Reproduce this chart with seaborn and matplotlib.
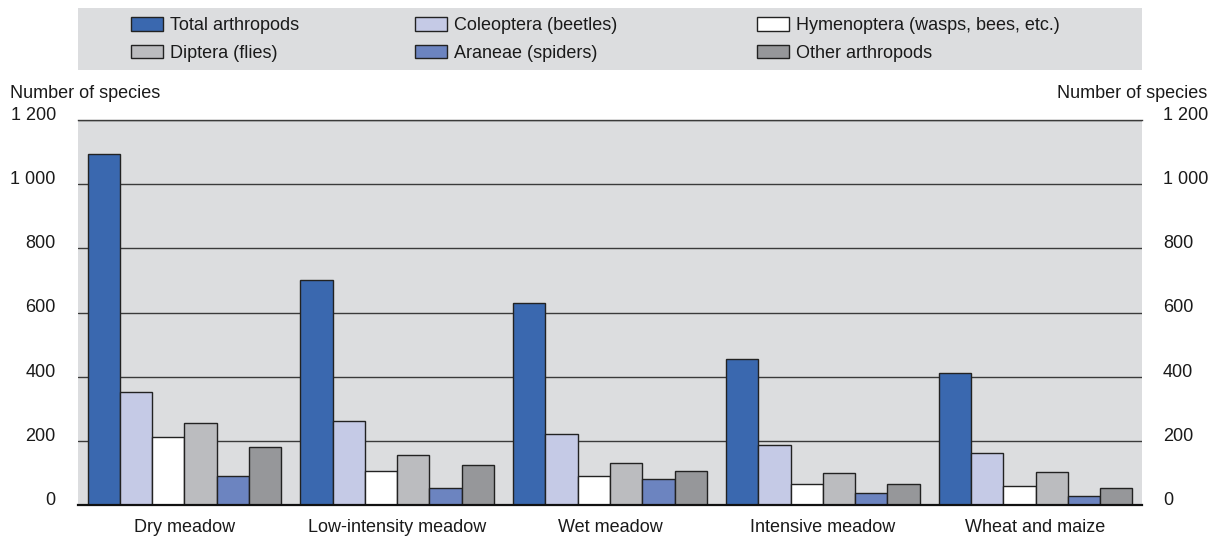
import pandas as pd
import numpy as np
import matplotlib.pyplot as plt
import seaborn as sns
from matplotlib.patches import Patch, Rectangle
from matplotlib.ticker import FuncFormatter

# values (number of species)
habitats = ["Dry meadow", "Low-intensity meadow", "Wet meadow", "Intensive meadow", "Wheat and maize"]
groups = ["Total arthropods", "Coleoptera (beetles)", "Hymenoptera (wasps, bees, etc.)",
          "Diptera (flies)", "Araneae (spiders)", "Other arthropods"]
total = [1095, 702, 631, 455, 412]
coleoptera = [351, 262, 222, 187, 162]
hymenoptera = [213, 107, 91, 64, 58]
diptera = [257, 155, 130, 101, 104]
araneae = [89, 54, 80, 36, 29]
other = [182, 125, 105, 64, 54]
colors = ["#3A68AF", "#C5CAE6", "#FFFFFF", "#BBBCBF", "#6C84C0", "#96979A"]

series = [total, coleoptera, hymenoptera, diptera, araneae, other]
df = pd.DataFrame({
    "habitat": np.repeat([habitats], len(groups), axis=0).ravel(),
    "group": np.repeat(groups, len(habitats)),
    "species": np.concatenate(series),
})

sns.set_style("white")
plt.rcParams["font.family"] = ["Liberation Sans", "DejaVu Sans"]
plt.rcParams["font.size"] = 13
plt.rcParams["text.color"] = "#1a1a1a"

fig = plt.figure(figsize=(12.09, 5.37), dpi=100)
ax = fig.add_axes([78 / 1209, 1 - 505 / 537, 1064 / 1209, 385 / 537])
ax.set_facecolor("#DCDDDF")

sns.barplot(data=df, x="habitat", y="species", hue="group", hue_order=groups,
            palette=dict(zip(groups, colors)), saturation=1, width=0.91,
            edgecolor="#222222", linewidth=1, legend=False, ax=ax)

ax.set_ylim(0, 1200)
ax.set_xlim(-0.5, len(habitats) - 0.5)
ticks = [0, 200, 400, 600, 800, 1000, 1200]
fmt = FuncFormatter(lambda v, p: f"{int(v):,}".replace(",", " "))
ax.set_yticks(ticks)
ax.yaxis.set_major_formatter(fmt)
ax.yaxis.grid(True, color="#3a3a3a", linewidth=1)
ax.set_axisbelow(True)
ax.set_xlabel("")
ax.set_ylabel("")
ax.tick_params(axis="y", length=0, pad=16, labelcolor="#1a1a1a")
ax.tick_params(axis="x", length=0, pad=10, labelcolor="#1a1a1a")
for s in ["left", "right"]:
    ax.spines[s].set_visible(False)
ax.spines["top"].set_color("#3a3a3a")
ax.spines["top"].set_linewidth(1)
ax.spines["bottom"].set_color("#111111")
ax.spines["bottom"].set_linewidth(1.6)

twin = ax.twinx()
twin.set_ylim(ax.get_ylim())
twin.set_yticks(ticks)
twin.yaxis.set_major_formatter(fmt)
twin.tick_params(axis="y", length=0, pad=15, labelcolor="#1a1a1a")
for s in twin.spines.values():
    s.set_visible(False)

# tick labels sit on the gridlines
for lab in ax.get_yticklabels() + twin.get_yticklabels():
    lab.set_va("baseline")

fig.text(10 / 1209, 1 - 93 / 537, "Number of species", ha="left", va="center")
fig.text(1207 / 1209, 1 - 93 / 537, "Number of species", ha="right", va="center")

# legend: grey band with three columns
fig.add_artist(Rectangle((78 / 1209, 1 - 70 / 537), 1064 / 1209, 62 / 537,
                         transform=fig.transFigure, facecolor="#DCDDDF", edgecolor="none", zorder=0))
handles = [Patch(facecolor=c, edgecolor="#222222", linewidth=1) for c in colors]
col_x = [131, 415, 757]
for i, x in enumerate(col_x):
    idx = [i, i + 3]
    fig.legend([handles[j] for j in idx], [groups[j] for j in idx],
               loc="upper left", bbox_to_anchor=(x / 1209, 1 - 17 / 537),
               frameon=False, borderpad=0, borderaxespad=0,
               handlelength=1.78, handleheight=0.78, handletextpad=0.4,
               labelspacing=0.58, fontsize=13)

fig.savefig("out.png", dpi=100)
